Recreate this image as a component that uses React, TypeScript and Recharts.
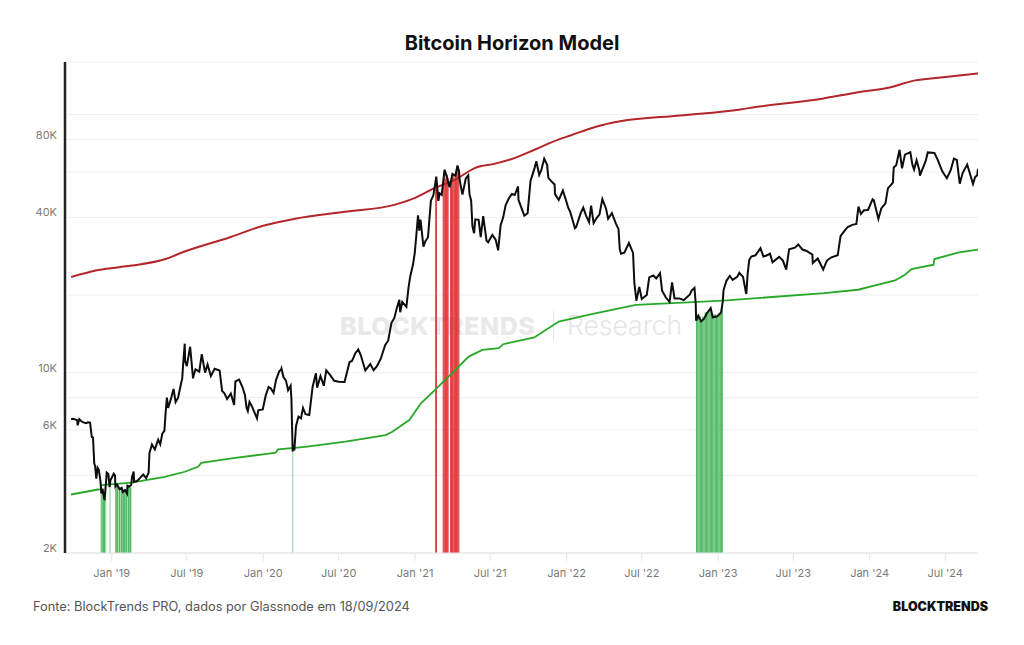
import React from 'react';
import { ComposedChart, Line, XAxis, YAxis, CartesianGrid, ReferenceArea } from 'recharts';

// ---------- DATA ----------
const priceSeries: [string, number][] = [
  ['2018-09-25', 6600], ['2018-09-30', 6630], ['2018-10-05', 6590], ['2018-10-10', 6540], ['2018-10-11', 6250],
  ['2018-10-15', 6600], ['2018-10-20', 6480], ['2018-10-25', 6420], ['2018-10-31', 6370], ['2018-11-05', 6420],
  ['2018-11-10', 6400], ['2018-11-14', 5640], ['2018-11-17', 5600], ['2018-11-19', 4820], ['2018-11-20', 4450],
  ['2018-11-22', 4350], ['2018-11-25', 3880], ['2018-11-28', 4280], ['2018-12-01', 4200], ['2018-12-05', 3800],
  ['2018-12-07', 3400], ['2018-12-10', 3550], ['2018-12-14', 3250], ['2018-12-15', 3240], ['2018-12-17', 3550],
  ['2018-12-19', 3870], ['2018-12-20', 4100], ['2018-12-24', 4050], ['2018-12-27', 3600], ['2018-12-29', 3830],
  ['2019-01-02', 3940], ['2019-01-06', 4060], ['2019-01-09', 4000], ['2019-01-10', 3620], ['2019-01-14', 3680],
  ['2019-01-20', 3540], ['2019-01-25', 3580], ['2019-01-28', 3450], ['2019-02-02', 3510], ['2019-02-07', 3400],
  ['2019-02-08', 3650], ['2019-02-12', 3620], ['2019-02-17', 3670], ['2019-02-19', 3940], ['2019-02-23', 4140],
  ['2019-02-24', 3770], ['2019-03-03', 3800], ['2019-03-10', 3900], ['2019-03-18', 4030], ['2019-03-25', 3900],
  ['2019-03-31', 4100], ['2019-04-02', 4880], ['2019-04-08', 5270], ['2019-04-15', 5040], ['2019-04-23', 5500],
  ['2019-04-28', 5280], ['2019-05-03', 5800], ['2019-05-08', 5950], ['2019-05-11', 7000], ['2019-05-14', 8000],
  ['2019-05-17', 7300], ['2019-05-25', 8050], ['2019-05-30', 8650], ['2019-06-04', 7700], ['2019-06-10', 8000],
  ['2019-06-16', 8900], ['2019-06-20', 9500], ['2019-06-22', 10700], ['2019-06-26', 12950], ['2019-06-27', 11100],
  ['2019-07-01', 10600], ['2019-07-09', 12600], ['2019-07-16', 9500], ['2019-07-17', 9700], ['2019-07-22', 10300],
  ['2019-07-31', 10100], ['2019-08-06', 11800], ['2019-08-14', 10000], ['2019-08-20', 10750], ['2019-08-28', 9700],
  ['2019-09-06', 10350], ['2019-09-18', 10200], ['2019-09-24', 8500], ['2019-09-30', 8300], ['2019-10-06', 7900],
  ['2019-10-15', 8300], ['2019-10-23', 7500], ['2019-10-26', 9250], ['2019-11-04', 9400], ['2019-11-12', 8800],
  ['2019-11-18', 8200], ['2019-11-22', 7300], ['2019-11-25', 7100], ['2019-11-29', 7700], ['2019-12-05', 7400],
  ['2019-12-17', 6650], ['2019-12-20', 7150], ['2019-12-31', 7200],
  ['2020-01-07', 8150], ['2020-01-14', 8800], ['2020-01-19', 8700], ['2020-01-26', 8350], ['2020-02-01', 9380],
  ['2020-02-09', 10150], ['2020-02-13', 10250], ['2020-02-14', 10370], ['2020-02-19', 9600], ['2020-02-25', 9300],
  ['2020-03-01', 8550], ['2020-03-07', 8900], ['2020-03-09', 7900], ['2020-03-12', 4950], ['2020-03-13', 5200],
  ['2020-03-16', 5000], ['2020-03-20', 6200], ['2020-03-26', 6750], ['2020-04-01', 6650], ['2020-04-06', 7300],
  ['2020-04-12', 6900], ['2020-04-21', 6850], ['2020-04-29', 8800], ['2020-05-07', 9950], ['2020-05-10', 8750],
  ['2020-05-18', 9700], ['2020-05-26', 8900], ['2020-06-01', 10200], ['2020-06-10', 9800], ['2020-06-20', 9300],
  ['2020-07-01', 9230], ['2020-07-15', 9200], ['2020-07-27', 11000], ['2020-08-02', 11100], ['2020-08-10', 11900],
  ['2020-08-17', 12300], ['2020-08-23', 11700], ['2020-09-03', 10200], ['2020-09-15', 10800], ['2020-09-23', 10230],
  ['2020-10-01', 10600], ['2020-10-10', 11300], ['2020-10-21', 12800], ['2020-10-28', 13300], ['2020-11-05', 15600],
  ['2020-11-12', 16300], ['2020-11-18', 17800], ['2020-11-24', 19150], ['2020-11-26', 17150], ['2020-12-01', 18800],
  ['2020-12-11', 18000], ['2020-12-16', 21300], ['2020-12-20', 23500], ['2020-12-27', 26300], ['2020-12-31', 29000],
  ['2021-01-03', 32800], ['2021-01-08', 40700], ['2021-01-11', 35500], ['2021-01-14', 39200], ['2021-01-21', 30800],
  ['2021-01-26', 32400], ['2021-02-01', 33500], ['2021-02-08', 46400], ['2021-02-14', 48700], ['2021-02-21', 57500],
  ['2021-02-26', 46300], ['2021-03-01', 49600], ['2021-03-06', 48900], ['2021-03-13', 61200], ['2021-03-18', 57700],
  ['2021-03-25', 52300], ['2021-04-01', 58900], ['2021-04-08', 58000], ['2021-04-13', 63500], ['2021-04-17', 60100],
  ['2021-04-18', 56200], ['2021-04-25', 49000], ['2021-05-03', 56600], ['2021-05-09', 58200], ['2021-05-12', 49200],
  ['2021-05-16', 46400], ['2021-05-19', 37000], ['2021-05-23', 34700], ['2021-05-26', 39300], ['2021-06-03', 39100],
  ['2021-06-08', 33500], ['2021-06-14', 40400], ['2021-06-22', 32500], ['2021-06-26', 32000], ['2021-07-06', 34200],
  ['2021-07-14', 32800], ['2021-07-20', 29800], ['2021-07-26', 37300], ['2021-08-01', 39900], ['2021-08-07', 44500],
  ['2021-08-14', 47100], ['2021-08-22', 49300], ['2021-08-29', 48800], ['2021-09-06', 52700], ['2021-09-07', 46800],
  ['2021-09-21', 40600], ['2021-09-29', 41500], ['2021-10-06', 55300], ['2021-10-15', 61500], ['2021-10-20', 66000],
  ['2021-10-27', 58400], ['2021-11-01', 61000], ['2021-11-08', 67500], ['2021-11-15', 63900], ['2021-11-18', 56900],
  ['2021-11-27', 54800], ['2021-12-03', 53600], ['2021-12-04', 49200], ['2021-12-13', 46700], ['2021-12-23', 50800],
  ['2021-12-31', 46300],
  ['2022-01-05', 43500], ['2022-01-10', 41800], ['2022-01-21', 36300], ['2022-01-24', 36700], ['2022-02-04', 41600],
  ['2022-02-10', 43600], ['2022-02-17', 40500], ['2022-02-24', 38300], ['2022-03-01', 44400], ['2022-03-07', 38000],
  ['2022-03-14', 39700], ['2022-03-21', 41000], ['2022-03-28', 47100], ['2022-04-06', 43200], ['2022-04-11', 39500],
  ['2022-04-20', 41500], ['2022-04-30', 37700], ['2022-05-06', 36000], ['2022-05-09', 30100], ['2022-05-12', 28900],
  ['2022-05-20', 29200], ['2022-05-31', 31800], ['2022-06-10', 29100], ['2022-06-13', 22500], ['2022-06-18', 19000],
  ['2022-06-25', 21500], ['2022-07-01', 19300], ['2022-07-13', 20000], ['2022-07-19', 23400], ['2022-07-29', 23800],
  ['2022-08-05', 23200], ['2022-08-14', 24300], ['2022-08-19', 20800], ['2022-08-28', 19550], ['2022-09-06', 18800],
  ['2022-09-12', 22400], ['2022-09-18', 19400], ['2022-09-30', 19400], ['2022-10-10', 19100], ['2022-10-25', 20100],
  ['2022-10-29', 20800], ['2022-11-05', 21300], ['2022-11-08', 18500], ['2022-11-09', 15900], ['2022-11-14', 16600],
  ['2022-11-21', 15800], ['2022-11-28', 16200], ['2022-12-05', 17000], ['2022-12-14', 17800], ['2022-12-19', 16400],
  ['2022-12-30', 16550],
  ['2023-01-08', 17100], ['2023-01-12', 18800], ['2023-01-14', 20900], ['2023-01-21', 22700], ['2023-01-29', 23700],
  ['2023-02-05', 22900], ['2023-02-16', 23500], ['2023-02-21', 24400], ['2023-03-02', 23500], ['2023-03-09', 20400],
  ['2023-03-10', 20200], ['2023-03-13', 24100], ['2023-03-17', 27400], ['2023-03-22', 28200], ['2023-04-01', 28500],
  ['2023-04-13', 30400], ['2023-04-20', 28200], ['2023-04-26', 28400], ['2023-05-06', 28900], ['2023-05-12', 26800],
  ['2023-05-28', 28100], ['2023-06-06', 27200], ['2023-06-14', 25100], ['2023-06-21', 30100], ['2023-07-05', 30500],
  ['2023-07-13', 31400], ['2023-07-23', 30000], ['2023-08-01', 29700], ['2023-08-16', 28700], ['2023-08-17', 26600],
  ['2023-08-29', 27700], ['2023-09-11', 25100], ['2023-09-20', 27200], ['2023-10-01', 28000], ['2023-10-16', 28500],
  ['2023-10-23', 33900], ['2023-11-01', 35400], ['2023-11-09', 36700], ['2023-11-20', 37400], ['2023-11-30', 37700],
  ['2023-12-05', 44000], ['2023-12-11', 41200], ['2023-12-18', 42600], ['2023-12-28', 42700],
  ['2024-01-08', 47000], ['2024-01-11', 46600], ['2024-01-22', 39500], ['2024-01-29', 43300], ['2024-02-08', 45300],
  ['2024-02-14', 51800], ['2024-02-26', 54500], ['2024-02-28', 62400], ['2024-03-05', 63700], ['2024-03-13', 73100],
  ['2024-03-19', 61900], ['2024-03-26', 70000], ['2024-04-08', 71600], ['2024-04-13', 64000], ['2024-04-17', 61300],
  ['2024-04-23', 66500], ['2024-04-30', 60600], ['2024-05-01', 58000], ['2024-05-15', 66200], ['2024-05-20', 71400],
  ['2024-06-05', 71100], ['2024-06-13', 66800], ['2024-06-24', 60300], ['2024-07-05', 56700], ['2024-07-14', 60800],
  ['2024-07-22', 67500], ['2024-07-29', 66800], ['2024-08-05', 54000], ['2024-08-12', 59400], ['2024-08-23', 64100],
  ['2024-09-06', 53900], ['2024-09-11', 57300], ['2024-09-16', 58200], ['2024-09-18', 61700],
];

const upperBand: [string, number][] = [
  ['2018-09-25', 23500], ['2018-11-30', 25000], ['2019-02-18', 26000], ['2019-05-09', 27500], ['2019-06-26', 29500],
  ['2019-10-13', 33500], ['2020-01-01', 37100], ['2020-03-18', 39500], ['2020-07-15', 42000], ['2020-11-14', 44800],
  ['2021-01-01', 47600], ['2021-02-18', 52000], ['2021-04-08', 56000], ['2021-05-26', 62200], ['2021-07-13', 64600],
  ['2021-08-30', 68000], ['2021-10-17', 73300], ['2021-12-12', 80000], ['2022-01-10', 83000], ['2022-03-15', 90000],
  ['2022-05-10', 94200], ['2022-10-02', 99300], ['2023-02-24', 104800], ['2023-04-01', 107000], ['2023-09-09', 115300],
  ['2023-11-28', 121700], ['2024-02-15', 127200], ['2024-04-20', 135800], ['2024-06-15', 139100], ['2024-09-18', 144500],
];

const lowerBand: [string, number][] = [
  ['2018-09-25', 3370], ['2018-11-29', 3525], ['2018-12-06', 3540], ['2018-12-07', 3665], ['2019-02-18', 3750],
  ['2019-05-09', 3945], ['2019-06-26', 4130], ['2019-07-28', 4316], ['2019-08-05', 4470], ['2019-10-17', 4650],
  ['2020-01-05', 4835], ['2020-01-31', 4900], ['2020-02-06', 5040], ['2020-04-11', 5160], ['2020-07-17', 5400],
  ['2020-10-22', 5730], ['2020-11-07', 5900], ['2020-12-18', 6550], ['2021-01-15', 7610], ['2021-02-18', 8570],
  ['2021-04-08', 10250], ['2021-05-10', 11540], ['2021-06-12', 12250], ['2021-07-22', 12440], ['2021-08-01', 12890],
  ['2021-10-15', 13700], ['2021-12-13', 15780], ['2022-03-05', 16900], ['2022-06-17', 18320], ['2022-11-02', 18770],
  ['2023-01-22', 19050], ['2023-04-05', 19450], ['2023-09-14', 20340], ['2023-12-04', 20960], ['2024-01-05', 21580],
  ['2024-03-02', 22770], ['2024-03-26', 23960], ['2024-04-11', 25190], ['2024-06-03', 26200], ['2024-06-05', 27570],
  ['2024-08-03', 29250], ['2024-09-18', 29970],
];

// [first day, last day, price at top]
const sellSignals: [string, string, number][] = [
  ['2021-02-19', '2021-02-20', 56000], ['2021-02-21', '2021-02-22', 57000],
  ['2021-03-09', '2021-03-10', 55000], ['2021-03-11', '2021-03-12', 57500], ['2021-03-13', '2021-03-14', 60000],
  ['2021-03-15', '2021-03-16', 56500], ['2021-03-17', '2021-03-18', 58000], ['2021-03-19', '2021-03-20', 58500],
  ['2021-03-21', '2021-03-22', 57000],
  ['2021-03-27', '2021-03-28', 55800], ['2021-03-29', '2021-03-30', 58500], ['2021-03-31', '2021-04-01', 59000],
  ['2021-04-02', '2021-04-03', 58500], ['2021-04-04', '2021-04-05', 58500], ['2021-04-06', '2021-04-07', 57000],
  ['2021-04-08', '2021-04-09', 58200], ['2021-04-10', '2021-04-11', 60000], ['2021-04-12', '2021-04-13', 62500],
  ['2021-04-14', '2021-04-15', 63000], ['2021-04-16', '2021-04-17', 61000],
];

const buySignals: [string, string, number][] = [
  ['2018-12-06', '2018-12-07', 3450], ['2018-12-08', '2018-12-10', 3450], ['2018-12-11', '2018-12-13', 3350],
  ['2018-12-14', '2018-12-16', 3250], ['2018-12-17', '2018-12-17', 3550],
  ['2018-12-28', '2018-12-28', 3600],
  ['2019-01-10', '2019-01-13', 3620], ['2019-01-14', '2019-01-16', 3650], ['2019-01-18', '2019-01-21', 3560],
  ['2019-01-23', '2019-01-26', 3570], ['2019-01-27', '2019-01-30', 3450], ['2019-01-31', '2019-02-03', 3500],
  ['2019-02-04', '2019-02-07', 3420], ['2019-02-09', '2019-02-12', 3620], ['2019-02-13', '2019-02-17', 3600],
  ['2020-03-12', '2020-03-12', 4950],
  ['2022-11-09', '2022-11-11', 16500], ['2022-11-12', '2022-11-14', 16600], ['2022-11-15', '2022-11-17', 16800],
  ['2022-11-18', '2022-11-20', 16500], ['2022-11-21', '2022-11-23', 16000], ['2022-11-24', '2022-11-26', 16500],
  ['2022-11-27', '2022-11-29', 16300], ['2022-11-30', '2022-12-02', 17100], ['2022-12-03', '2022-12-05', 17100],
  ['2022-12-06', '2022-12-08', 17000], ['2022-12-09', '2022-12-11', 17200], ['2022-12-12', '2022-12-14', 17600],
  ['2022-12-15', '2022-12-17', 16800], ['2022-12-18', '2022-12-20', 16600], ['2022-12-21', '2022-12-23', 16800],
  ['2022-12-24', '2022-12-26', 16850], ['2022-12-27', '2022-12-29', 16600], ['2022-12-30', '2023-01-01', 16550],
  ['2023-01-02', '2023-01-04', 16700], ['2023-01-05', '2023-01-07', 16900], ['2023-01-08', '2023-01-10', 17200],
  ['2023-01-11', '2023-01-12', 18000],
];

const xTickDates = ['2019-01-01', '2019-07-01', '2020-01-01', '2020-07-01', '2021-01-01', '2021-07-01',
  '2022-01-01', '2022-07-01', '2023-01-01', '2023-07-01', '2024-01-01', '2024-07-01'];
const xTickLabels = ["Jan '19", "Jul '19", "Jan '20", "Jul '20", "Jan '21", "Jul '21",
  "Jan '22", "Jul '22", "Jan '23", "Jul '23", "Jan '24", "Jul '24"];
const yTicks = [2000, 4000, 6000, 8000, 10000, 20000, 40000, 60000, 80000, 100000];
const yTickLabels: Record<number, string> = { 2000: '2K', 6000: '6K', 10000: '10K', 40000: '40K', 80000: '80K' };

const startDate = '2018-09-25';
const endDate = '2024-09-18';

// ---------- BUILD ----------
const DAY = 86400000;
const ts = (d: string) => Date.parse(d + 'T00:00:00Z');

type Row = { t: number; price?: number; upper?: number; lower?: number };
const rowMap = new Map<number, Row>();
const put = (list: [string, number][], key: 'price' | 'upper' | 'lower') => {
  list.forEach(([d, v]) => {
    const t = ts(d);
    const r = rowMap.get(t) || { t };
    r[key] = v;
    rowMap.set(t, r);
  });
};
put(priceSeries, 'price');
put(upperBand, 'upper');
put(lowerBand, 'lower');
const rows = Array.from(rowMap.values()).sort((a, b) => a.t - b.t);

const xTicks = xTickDates.map(ts);
const xLabelOf = (v: number) => {
  const i = xTicks.indexOf(v);
  return i >= 0 ? xTickLabels[i] : '';
};

const FONT = 'Inter, "Noto Sans", sans-serif';

const YTick = (props: any) => {
  const { x, y, payload } = props;
  const label = yTickLabels[payload.value];
  if (!label) return <g />;
  return (
    <text x={x} y={y - 4} textAnchor="end" dominantBaseline="middle" fill="#7a7a7a" fontSize={11} fontFamily={FONT}>
      {label}
    </text>
  );
};

export default function App() {
  return (
    <div style={{ position: 'absolute', left: 0, top: 0, width: 1024, height: 645, background: '#fff', fontFamily: FONT, overflow: 'hidden' }}>
      <div style={{ position: 'absolute', left: 0, top: 30, width: 1024, textAlign: 'center', fontSize: 20, lineHeight: '26px', fontWeight: 700, color: '#111' }}>
        Bitcoin Horizon Model
      </div>
      {/* watermark */}
      <div style={{ position: 'absolute', left: 340, top: 312, fontSize: 25, lineHeight: '28px', fontWeight: 800, color: '#e9e9e9', letterSpacing: 0.6 }}>
        BLOCKTRENDS
      </div>
      <div style={{ position: 'absolute', left: 553, top: 311, width: 1, height: 30, background: '#e6e6e6' }} />
      <div style={{ position: 'absolute', left: 567, top: 310, fontSize: 26.5, lineHeight: '30px', fontWeight: 300, color: '#e6e6e6' }}>
        Research
      </div>
      <div style={{ position: 'absolute', left: 0, top: 0 }}>
        <ComposedChart width={1024} height={600} data={rows} margin={{ top: 62, right: 46, bottom: 17, left: 0 }} style={{ fontFamily: FONT }}>
          <CartesianGrid vertical={false} stroke="#efefef" strokeWidth={1} />
          <XAxis
            dataKey="t"
            type="number"
            domain={[ts(startDate), ts(endDate)]}
            allowDataOverflow
            ticks={xTicks}
            interval={0}
            tickFormatter={xLabelOf}
            padding={{ left: 6, right: 0 }}
            height={30}
            tickSize={8}
            tickMargin={8}
            axisLine={{ stroke: '#e4e4e4' }}
            tickLine={{ stroke: '#e4e4e4' }}
            tick={{ fill: '#7a7a7a', fontSize: 11, fontFamily: FONT }}
          />
          <YAxis
            type="number"
            scale="log"
            domain={[2000, 160000]}
            allowDataOverflow
            ticks={yTicks}
            interval={0}
            width={65}
            axisLine={{ stroke: '#222', strokeWidth: 2.5 }}
            tickLine={false}
            tickSize={4}
            tickMargin={4}
            tick={(p: any) => <YTick {...p} />}
          />
          {buySignals.map(([a, b, top], i) => {
            const single = a === b;
            return (
              <ReferenceArea
                key={'b' + i}
                x1={ts(a) - (single ? 2 : 0.5) * DAY}
                x2={ts(b) + (single ? 2 : 0.5) * DAY}
                y1={2000}
                y2={top}
                fill="#44b55a"
                fillOpacity={single ? 0.4 : 0.92}
                stroke="none"
                ifOverflow="visible"
              />
            );
          })}
          {sellSignals.map(([a, b, top], i) => (
            <ReferenceArea
              key={'s' + i}
              x1={ts(a) - 0.5 * DAY}
              x2={ts(b) + 0.5 * DAY}
              y1={2000}
              y2={top}
              fill="#dc1f1f"
              fillOpacity={1}
              stroke="none"
              ifOverflow="visible"
            />
          ))}
          <Line dataKey="lower" type="linear" stroke="#27a827" strokeWidth={1.8} dot={false} connectNulls isAnimationActive={false} />
          <Line dataKey="upper" type="monotone" stroke="#b3262a" strokeWidth={2} dot={false} connectNulls isAnimationActive={false} />
          <Line dataKey="price" type="linear" stroke="#0d0d0d" strokeWidth={2} dot={false} connectNulls isAnimationActive={false} />
        </ComposedChart>
      </div>
      <div style={{ position: 'absolute', left: 33, top: 598, fontSize: 12.8, lineHeight: '18px', color: '#555' }}>
        Fonte: BlockTrends PRO, dados por Glassnode em 18/09/2024
      </div>
      <div style={{ position: 'absolute', left: 0, width: 988, top: 598, textAlign: 'right', fontSize: 12.5, lineHeight: '18px', fontWeight: 900, color: '#111' }}>
        BLOCKTRENDS
      </div>
    </div>
  );
}
